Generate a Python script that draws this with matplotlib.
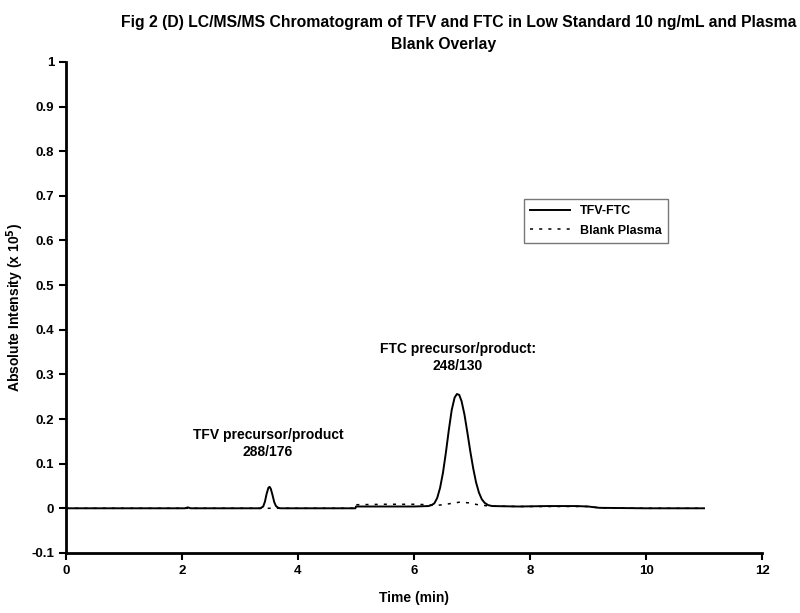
import matplotlib
matplotlib.use("Agg")
import matplotlib.pyplot as plt

plt.rcParams['font.family'] = ['Liberation Sans', 'DejaVu Sans']
plt.rcParams['font.weight'] = 'bold'

# TFV-FTC trace (time in min, intensity in x10^5)
tfv_ftc_t = [0.0, 1.2, 2.05, 2.1, 2.15, 3.0, 3.35, 3.40, 3.43, 3.46, 3.49, 3.51, 3.53,
             3.56, 3.59, 3.62, 3.66, 3.70, 4.5, 4.99, 5.0, 5.5, 6.0, 6.25, 6.30,
             6.35, 6.40, 6.45, 6.50, 6.55, 6.60, 6.65, 6.70, 6.74, 6.78, 6.82, 6.87,
             6.92, 6.97, 7.02, 7.07, 7.12, 7.17, 7.22, 7.28, 7.35, 7.8, 8.3, 8.8,
             9.0, 9.2, 10.0, 11.0]
tfv_ftc_y = [0.0, 0.0, 0.0, 0.002, 0.0, 0.0, 0.0, 0.004, 0.015, 0.033, 0.046, 0.048, 0.044,
             0.030, 0.014, 0.005, 0.001, 0.0, 0.0, 0.0, 0.004, 0.004, 0.004, 0.005, 0.007,
             0.011, 0.023, 0.046, 0.080, 0.125, 0.175, 0.220, 0.248, 0.256, 0.254, 0.240, 0.210,
             0.170, 0.128, 0.090, 0.058, 0.035, 0.020, 0.012, 0.007, 0.005, 0.004, 0.005, 0.005,
             0.004, 0.001, 0.0, 0.0]

# Blank plasma trace
blank_t = [0.0, 2.0, 3.5, 4.99, 5.0, 5.5, 6.0, 6.25, 6.35, 6.5, 6.65, 6.8, 6.95,
           7.1, 7.3, 7.8, 8.5, 9.0, 9.2, 10.0, 11.0]
blank_y = [0.0, 0.0, 0.0, 0.0, 0.008, 0.009, 0.009, 0.008, 0.006, 0.008, 0.011, 0.014, 0.012,
           0.008, 0.005, 0.004, 0.004, 0.004, 0.001, 0.0, 0.0]

series_names = ['TFV-FTC', 'Blank Plasma']
peak_labels = ['TFV precursor/product\n288/176', 'FTC precursor/product:\n248/130']
peak_label_pos = [(3.48, 0.145), (6.76, 0.337)]

fig = plt.figure(figsize=(8, 6.13), dpi=100)
ax = fig.add_axes([0.0825, 0.098, 0.87, 0.801])

ax.plot(tfv_ftc_t, tfv_ftc_y, color='black', lw=1.4, label=series_names[0])
ax.plot(blank_t, blank_y, color='black', lw=1.1, ls=(0, (2, 4)), label=series_names[1])

for txt, (x, y) in zip(peak_labels, peak_label_pos):
    ax.text(x, y, txt, ha='center', va='center', fontsize=10, fontweight='bold',
            linespacing=1.25)

ax.set_xlim(0, 12)
ax.set_ylim(-0.1, 1.0)
ax.set_xticks(range(0, 13, 2))
ax.set_yticks([-0.1, 0, 0.1, 0.2, 0.3, 0.4, 0.5, 0.6, 0.7, 0.8, 0.9, 1.0])
ax.set_yticklabels(['-0.1', '0', '0.1', '0.2', '0.3', '0.4', '0.5', '0.6', '0.7', '0.8', '0.9', '1'])
ax.tick_params(labelsize=9.5, width=1.5, length=5, direction='out')
for s in ['top', 'right']:
    ax.spines[s].set_visible(False)
for s in ['left', 'bottom']:
    ax.spines[s].set_linewidth(2)

ax.set_xlabel('Time (min)', fontsize=10, fontweight='bold', labelpad=10)
ax.set_ylabel('Absolute Intensity (x 10$^{\\mathbf{5}}$)', fontsize=10, fontweight='bold')
ax.yaxis.set_label_coords(-0.058, 0.5)

leg = ax.legend(loc='upper left', bbox_to_anchor=(0.658, 0.721), fontsize=9,
                frameon=True, fancybox=False, handlelength=3.2, borderpad=0.5,
                labelspacing=0.6, borderaxespad=0)
leg.get_frame().set_edgecolor('#555555')
leg.get_frame().set_linewidth(1.0)

fig.text(0.573, 1 - 22 / 613, 'Fig 2 (D) LC/MS/MS Chromatogram of TFV and FTC in Low Standard 10 ng/mL and Plasma',
         ha='center', va='center', fontsize=11.3, fontweight='bold')
fig.text(0.555, 1 - 44 / 613, 'Blank Overlay', ha='center', va='center', fontsize=11.3, fontweight='bold')

fig.savefig('out.png', dpi=100)
